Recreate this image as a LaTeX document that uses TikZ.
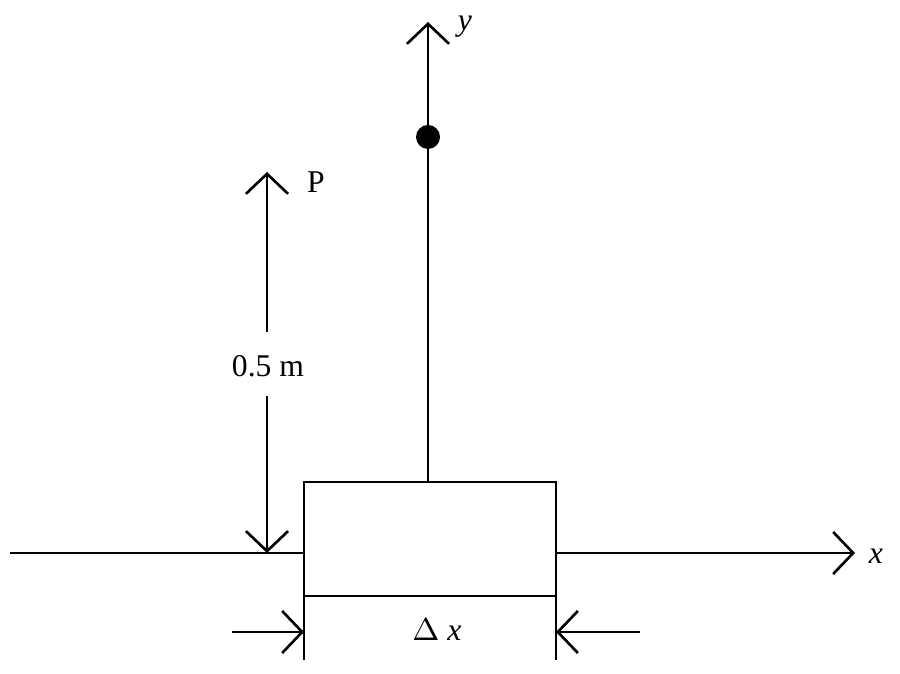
\documentclass[tikz,border=0pt]{standalone}
\usepackage{fontspec}
\setmainfont{Liberation Serif}
\usetikzlibrary{arrows.meta}
\begin{document}
\begin{tikzpicture}[x=0.01cm,y=-0.01cm,
  ln/.style={line width=0.75pt,black},
  ar/.style={ln,-{Straight Barb[length=0.2cm,width=0.42cm,line width=0.75pt]}},
  lab/.style={font=\fontsize{9}{10}\selectfont,inner sep=0pt}]
\useasboundingbox (0,0) rectangle (900,674);
\coordinate (xl) at (10,553); \coordinate (xb1) at (304,553);
\coordinate (xb2) at (556,553); \coordinate (xr) at (855,553);
\coordinate (yb) at (428,482); \coordinate (yt) at (428,22);
\coordinate (pt) at (267,172); \coordinate (pm1) at (267,332);
\coordinate (pm2) at (267,396); \coordinate (pb) at (267,553);
\coordinate (btl) at (304,482); \coordinate (btr) at (556,482);
\coordinate (bll) at (304,660); \coordinate (blr) at (556,660);
\coordinate (bbl) at (304,596); \coordinate (bbr) at (556,596);
\coordinate (al) at (232,632); \coordinate (alt) at (304,632);
\coordinate (arr) at (640,632); \coordinate (art) at (556,632);
\draw[ln] (xl) -- (xb1);
\draw[ar] (xb2) -- (xr);
\draw[ar] (yb) -- (yt);
\fill (428,137) circle (12);
\draw[ar] (pm1) -- (pt);
\draw[ar] (pm2) -- (pb);
\draw[ln] (bll) -- (btl) -- (btr) -- (blr);
\draw[ln] (bbl) -- (bbr);
\draw[ar] (al) -- (alt);
\draw[ar] (arr) -- (art);
\node[lab] (ylab) at (465,27) {\itshape y};
\node[lab] (xlab) at (876,556) {\itshape x};
\node[lab] (P) at (316,182) {P};
\node[lab] (h) at (268,366) {0.5 m};
\node[lab] (dx) at (437,630) {$\Delta$ \itshape x};
\end{tikzpicture}
\end{document}
